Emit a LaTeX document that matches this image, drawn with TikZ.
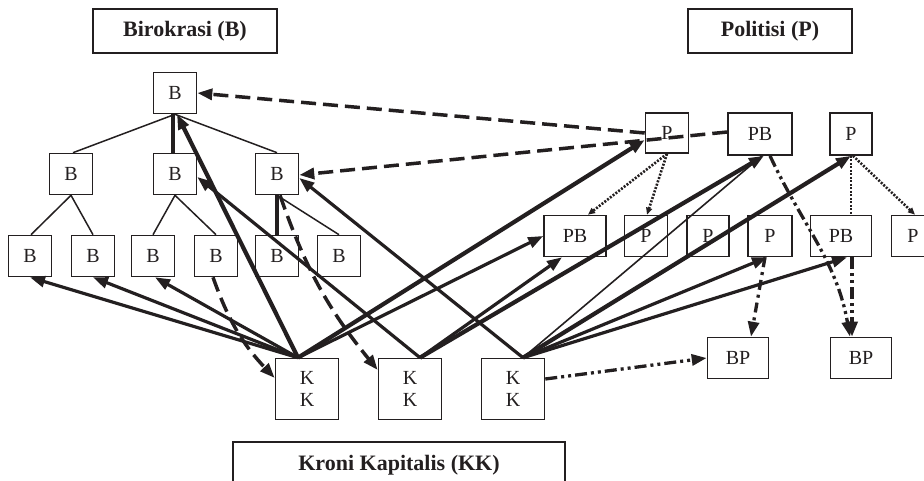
\documentclass[tikz,border=0pt]{standalone}
\usepackage{fontspec}
\setmainfont{Liberation Serif}
\usetikzlibrary{arrows.meta}
\definecolor{ink}{RGB}{35,31,32}
\begin{document}
\begin{tikzpicture}[x=1pt,y=-1pt,
  box/.style={draw=ink, line width=1.6pt, inner sep=0pt, text=ink,
    font=\fontsize{20}{22}\selectfont, minimum width=43pt, minimum height=41pt},
  titlebox/.style={draw=ink, line width=1.6pt, inner sep=0pt, text=ink,
    font=\bfseries\fontsize{22}{26}\selectfont, minimum height=44pt},
  tree/.style={draw=ink, line width=1.5pt},
  treebold/.style={draw=ink, line width=3.2pt},
  bigtip/.style={-{Stealth[length=15pt,width=11pt,inset=0pt]}},
  sol/.style={draw=ink, line width=3.2pt, bigtip},
  solbig/.style={draw=ink, line width=4.2pt, bigtip},
  solthin/.style={draw=ink, line width=1.6pt},
  dsh/.style={draw=ink, line width=3.5pt, dash pattern=on 15pt off 7pt, bigtip},
  dotarr/.style={draw=ink, line width=2.6pt, dash pattern=on 2pt off 1.5pt,
    -{Stealth[length=7pt,width=6pt,inset=0pt]}},
  dotline/.style={draw=ink, line width=2.6pt, dash pattern=on 2pt off 1.5pt},
  dashdot/.style={draw=ink, line width=3.3pt, dash pattern=on 10pt off 5pt on 3pt off 5pt, bigtip},
  dashdotdot/.style={draw=ink, line width=3.3pt, dash pattern=on 12pt off 4pt on 3pt off 4pt on 3pt off 4pt, bigtip}
]
\useasboundingbox (0,0) rectangle (924,481);
\clip (0,0) rectangle (924,481);

% titles
\node[titlebox, minimum width=184pt] (tB) at (185,31) {Birokrasi (B)};
\node[titlebox, minimum width=164pt] (tP) at (770,31) {Politisi (P)};
\node[titlebox, minimum width=332pt, minimum height=46pt] (tK) at (399,465) {Kroni Kapitalis (KK)};

% bureaucracy tree
\node[box] (b0) at (175,93) {B};
\node[box] (b1) at (71,174) {B};
\node[box] (b2) at (175,174) {B};
\node[box] (b3) at (277,174) {B};
\node[box] (b11) at (30,256) {B};
\node[box] (b12) at (93,256) {B};
\node[box] (b21) at (153,256) {B};
\node[box] (b22) at (216,256) {B};
\node[box] (b31) at (277,256) {B};
\node[box] (b32) at (339,256) {B};

% politicians
\node[box, minimum height=40pt] (p1) at (667,133) {P};
\node[box, minimum width=64pt, minimum height=42pt] (pb1) at (760,134) {PB};
\node[box, minimum width=42pt, minimum height=42pt] (p3) at (851,134) {P};
\node[box, minimum width=62pt] (pb2) at (575,236) {PB};
\node[box] (p4) at (646,236) {P};
\node[box, minimum width=42pt] (p5) at (708,236) {P};
\node[box, minimum width=44pt] (p6) at (770,236) {P};
\node[box, minimum width=61pt] (pb3) at (841,236) {PB};
\node[box] (p7) at (913,236) {P};
\node[box, minimum width=61pt] (bp1) at (738,358) {BP};
\node[box, minimum width=61pt] (bp2) at (861,358) {BP};

% crony capitalists
\node[box, minimum width=63pt, minimum height=61pt, align=center] (kk1) at (307,389) {K\\K};
\node[box, minimum width=63pt, minimum height=61pt, align=center] (kk2) at (410,389) {K\\K};
\node[box, minimum width=63pt, minimum height=61pt, align=center] (kk3) at (513,389) {K\\K};

% tree lines
\draw[tree] (b0.south) -- ([xshift=2pt]b1.north);
\draw[treebold] ([xshift=-2pt]b0.south) -- ([xshift=-2pt]b2.north);
\draw[tree] (b0.south) -- (b3.north);
\draw[tree] (b1.south) -- ([xshift=1pt]b11.north);
\draw[tree] (b1.south) -- (b12.north);
\draw[tree] (b2.south) -- (b21.north);
\draw[tree] (b2.south) -- (b22.north);
\draw[treebold] (b3.south) -- (b31.north);
\draw[tree] (b3.south) -- (b32.north);

% KK1 arrows
\coordinate (k1) at ([xshift=-9pt]kk1.north);
\draw[sol] (k1) -- (b11.south);
\draw[sol] (k1) -- (b12.south);
\draw[sol] (k1) -- ([xshift=2pt]b21.south);
\draw[solbig] (k1) -- ([xshift=2pt]b0.south);
\draw[solbig] (k1) -- ([yshift=-7pt]p1.west);
\draw[sol] (k1) -- (pb2.west);

% KK2 arrows
\coordinate (k2) at ([xshift=10pt]kk2.north);
\draw[sol] (k2) -- ([yshift=-3pt]b2.east);
\draw[sol] (k2) -- ([xshift=-13pt]pb2.south);
\draw[solbig] (k2) -- ([xshift=4pt]pb1.south);

% KK3 arrows
\coordinate (k3) at ([xshift=10pt]kk3.north);
\draw[sol] (k3) -- ([yshift=-4pt]b3.east);
\draw[solthin] (k3) -- ([xshift=2pt]pb1.south);
\draw[solbig] (k3) -- (p3.south);
\draw[sol] (k3) -- ([xshift=-3pt]p6.south);
\draw[sol] (k3) -- ([xshift=6pt]pb3.south);

% dashed links
\draw[dsh] (p1.west) -- (b0.east);
\draw[dsh] ([yshift=2pt]pb1.west) -- ([yshift=-1pt]b3.east);
\draw[dsh] ([xshift=-3pt]b22.south) to[bend right=12] ([yshift=11pt]kk1.west);
\draw[dsh] ([xshift=3pt]b3.south) to[bend right=10] ([yshift=19pt]kk2.west);

% dotted links in politician tree
\draw[dotarr] (p1.south) -- ([xshift=13pt]pb2.north);
\draw[dotarr] (p1.south) -- ([xshift=1pt]p4.north);
\draw[dotline] (p3.south) -- ([xshift=10pt]pb3.north);
\draw[dotarr] ([xshift=2pt]p3.south) -- ([xshift=2pt]p7.north);

% dash-dot links
\draw[dashdotdot] ([xshift=10pt]pb1.south) to[out=-65,in=100] ([xshift=-11pt]bp2.north);
\draw[dashdotdot] ([xshift=11pt]pb3.south) -- ([xshift=-9pt]bp2.north);
\draw[dashdot] ([xshift=-5pt]p6.south) -- ([xshift=13pt]bp1.north);
\draw[dashdotdot] ([yshift=10pt]kk3.east) -- (bp1.west);
\end{tikzpicture}
\end{document}
